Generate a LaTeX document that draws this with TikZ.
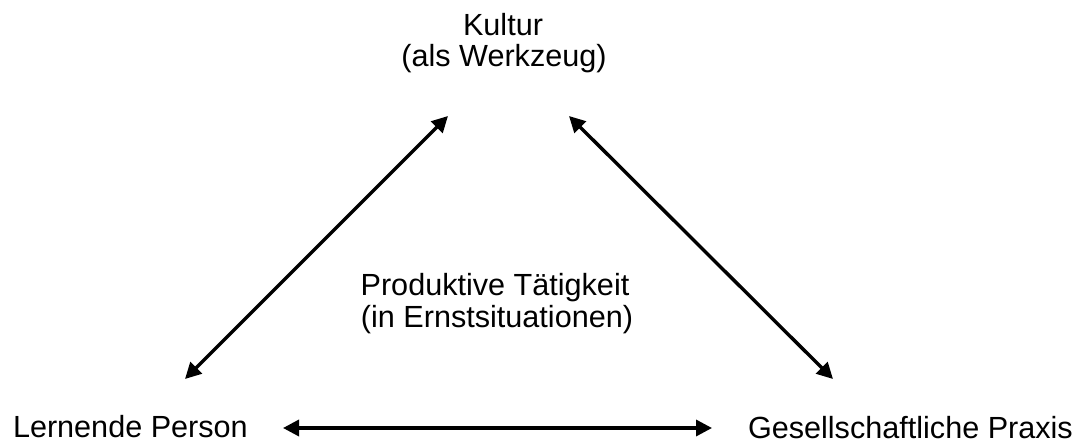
\documentclass[tikz,border=0pt]{standalone}
\usepackage{fontspec}
\setmainfont{Liberation Sans}
\usetikzlibrary{arrows.meta}
\begin{document}
\begin{tikzpicture}[x=0.5pt,y=-0.5pt,
  lbl/.style={font=\fontsize{15.3}{18}\selectfont, inner sep=0pt, outer sep=0pt},
  dblarrow/.style={line width=1.7pt, {Triangle[length=8pt,width=8pt]}-{Triangle[length=8pt,width=8pt]}, shorten <=0pt, shorten >=0pt}]
\useasboundingbox (0,0) rectangle (1088,444);
% labels
\node[lbl, anchor=base] (k1) at (503,36) {Kultur};
\node[lbl, anchor=base] (k2) at (504,67) {(als Werkzeug)};
\node[lbl, anchor=base] (p1) at (495,295) {Produktive Tätigkeit};
\node[lbl, anchor=base] (p2) at (497,327) {(in Ernstsituationen)};
\node[lbl, anchor=base west] (lp) at (13,437) {Lernende Person};
\node[lbl, anchor=base west] (gp) at (748,438) {Gesellschaftliche Praxis};
% arrow end points
\coordinate (aL) at (185,379);
\coordinate (aT1) at (448,116);
\coordinate (aT2) at (569,116);
\coordinate (aR) at (833,379);
\coordinate (hL) at (283,428);
\coordinate (hR) at (712,428);
% arrows
\draw[dblarrow] (aL) -- (aT1);
\draw[dblarrow] (aT2) -- (aR);
\draw[dblarrow] (hL) -- (hR);
\end{tikzpicture}
\end{document}
